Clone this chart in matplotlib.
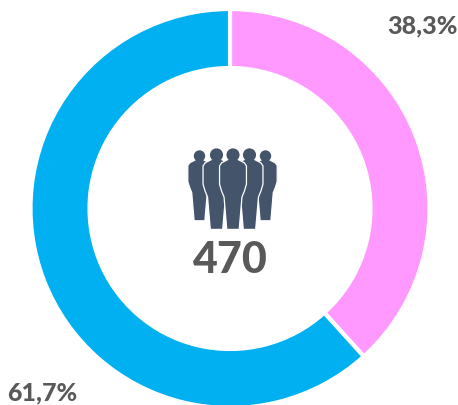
import matplotlib
matplotlib.use("Agg")
import matplotlib.pyplot as plt
from matplotlib.patches import Circle, Polygon

shares = [38.3, 61.7]
share_labels = ["38,3%", "61,7%"]
total_label = "470"
colors = ["#FF99FF", "#00B0F0"]
ICON = "#44546A"
TEXT = "#595959"

W, H = 458, 406


def draw_person(ax, cx, top, scale, z):
    """One silhouette, cx/top in pixels of the picture, shape in zoomed units."""
    half = [(8, 23), (10, 28), (14, 33), (33, 43), (39, 52), (39, 105), (33, 125),
            (26, 142), (18, 236), (-18, 236)]
    pts = half[:-1] + [(-x, y) for x, y in reversed(half[:-1])]
    pts = [(cx + x * scale, H - (top + y * scale)) for x, y in pts]
    ax.add_patch(Polygon(pts, closed=True, facecolor=ICON, edgecolor="white", linewidth=0.9, zorder=z))
    ax.add_patch(Circle((cx, H - (top + 20 * scale)), 19 * scale, facecolor=ICON, edgecolor="none", zorder=z))


fig = plt.figure(figsize=(W / 100, H / 100), dpi=100)
ax = fig.add_axes([0, 0, 1, 1])

ax.pie(shares, colors=colors, startangle=90, counterclock=False, center=(230, H - 209.5), radius=199.5,
       frame=True, wedgeprops=dict(width=59, edgecolor="white", linewidth=3))
ax.set_xlim(0, W)
ax.set_ylim(0, H)
ax.set_aspect("equal")
ax.axis("off")

# people icon, back row first
for cx, top, s, z in [(199.5, 151, 0.30, 3), (265.5, 151, 0.30, 3), (216.5, 149, 0.345, 4),
                      (249.5, 149, 0.345, 4), (233, 149, 0.345, 5)]:
    draw_person(ax, cx, top, s, z)

font = ["Lato", "DejaVu Sans"]
stroke = dict(fontweight=900, color=TEXT, family=font, ha="center", va="center")
ax.text(230, H - 260, total_label, fontsize=31, **stroke)
ax.text(422, H - 26, share_labels[0], fontsize=18, **stroke)
ax.text(42.5, H - 393, share_labels[1], fontsize=18, **stroke)

fig.savefig("out.png", dpi=100)
